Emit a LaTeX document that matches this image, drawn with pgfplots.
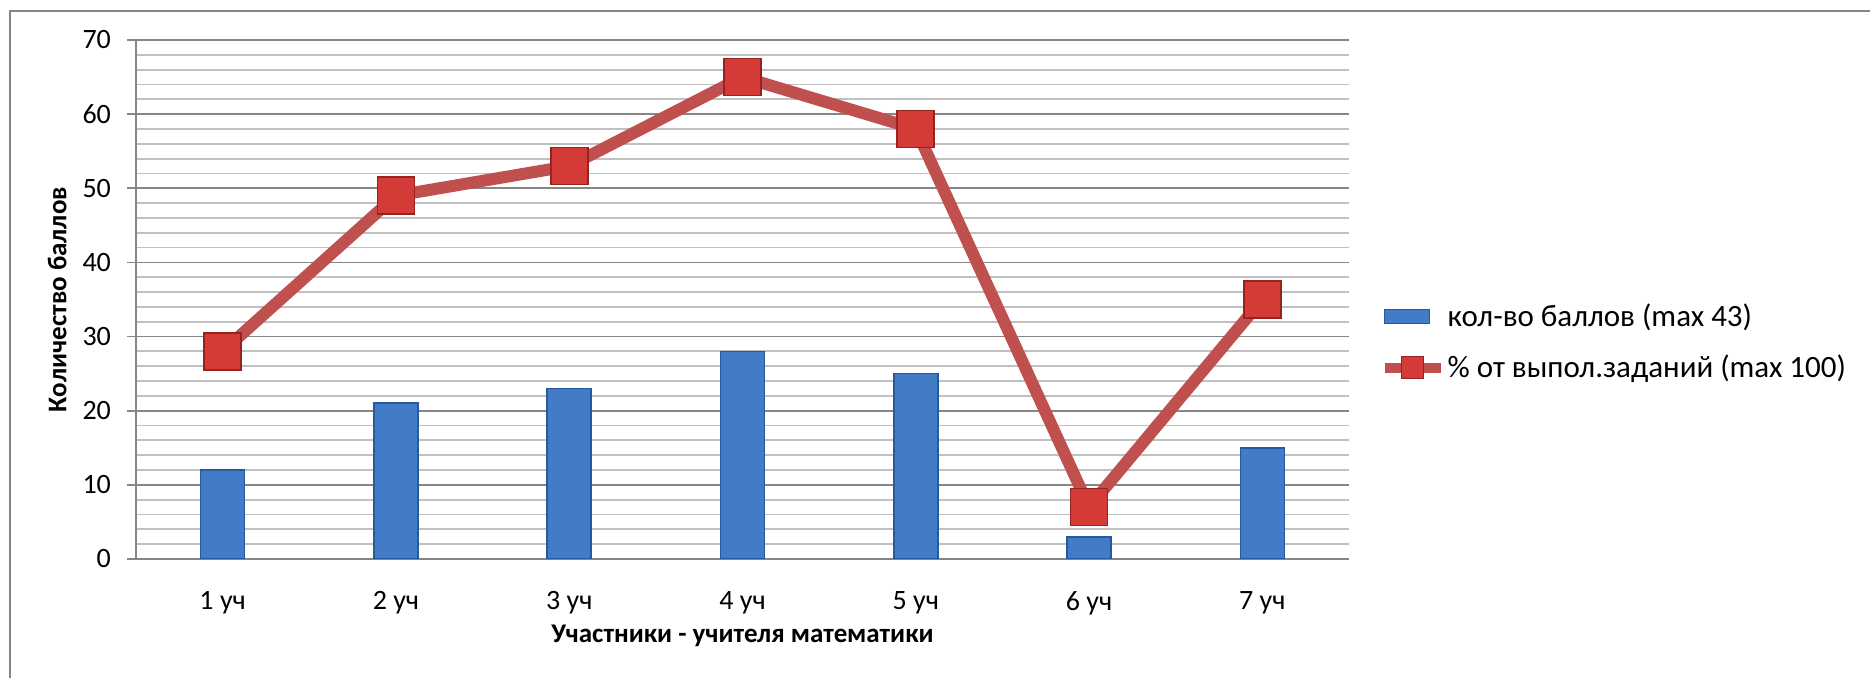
\documentclass[border=0pt]{standalone}
\usepackage{pgfplots}
\pgfplotsset{compat=1.18}
\usepackage{fontspec}
\setmainfont{Carlito}

\definecolor{barblue}{RGB}{66,124,198}
\definecolor{baredge}{RGB}{40,88,158}
\definecolor{linered}{RGB}{192,80,77}
\definecolor{markred}{RGB}{212,58,54}
\definecolor{markedge}{RGB}{150,35,32}
\definecolor{majgrid}{RGB}{134,134,134}
\definecolor{mingrid}{RGB}{192,192,192}

\begin{document}
\begin{tikzpicture}
\useasboundingbox (0,0) rectangle (935pt,339pt);
\draw[majgrid, line width=1pt] (5pt,0) -- (5pt,333.5pt) -- (935pt,333.5pt);
\begin{axis}[
    at={(68pt,59.5pt)}, anchor=south west,
    scale only axis,
    width=606.5pt, height=259.5pt,
    xmin=0.5, xmax=7.5,
    ymin=0, ymax=70,
    xtick={1,2,3,4,5,6,7},
    xticklabels={1 уч,2 уч,3 уч,4 уч,5 уч,6 уч,7 уч},
    ytick={0,10,...,70},
    minor y tick num=4,
    ymajorgrids, yminorgrids,
    major grid style={majgrid, line width=0.9pt},
    minor grid style={mingrid, line width=0.9pt},
    axis x line*=bottom, axis y line*=left,
    axis line style={majgrid, line width=1pt, -},
    x tick style={draw=none},
    y tick style={majgrid, line width=0.9pt},
    minor y tick style={draw=none},
    tick align=outside,
    major tick length=4.5pt,
    /pgf/number format/assume math mode=true,
    ticklabel style={font=\fontsize{14}{16}\selectfont},
    xticklabel style={anchor=center, yshift=-17.5pt},
    yticklabel style={xshift=-4.5pt},
    xlabel={\textbf{Участники - учителя математики}},
    ylabel={\textbf{Количество баллов}},
    every axis x label/.style={at={(axis description cs:0.5,-0.148)}, anchor=center,
        font=\fontsize{13.5}{15}\selectfont},
    every axis y label/.style={at={(axis description cs:-0.065,0.5)}, anchor=center, rotate=90,
        font=\fontsize{13.5}{15}\selectfont},
    legend style={draw=none, fill=none, at={(1.025,0.418)}, anchor=west,
        font=\fontsize{15.5}{17}\selectfont, row sep=9pt, inner sep=0pt,
        nodes={inner xsep=1pt}},
    legend cell align=left,
]
\addplot[ybar, bar width=22pt, fill=barblue, draw=baredge, line width=0.8pt,
    legend image code/.code={\fill[barblue, draw=baredge, line width=0.6pt]
        (0pt,-3.5pt) rectangle (22.5pt,3.5pt);}]
    coordinates {(1,12) (2,21) (3,23) (4,28) (5,25) (6,3) (7,15)};
\addlegendentry{кол-во баллов (max 43)}
\addplot[linered, line width=6pt, mark=square*, mark size=9.25pt,
    mark options={fill=markred, draw=markedge, line width=0.8pt},
    legend image code/.code={
        \draw[linered, line width=5pt] (0pt,0pt) -- (28pt,0pt);
        \draw[fill=markred, draw=markedge, line width=0.6pt] (8.5pt,-5.5pt) rectangle (19.5pt,5.5pt);}]
    coordinates {(1,28) (2,49) (3,53) (4,65) (5,58) (6,7) (7,35)};
\addlegendentry{\% от выпол.заданий (max 100)}
\end{axis}
\end{tikzpicture}
\end{document}
